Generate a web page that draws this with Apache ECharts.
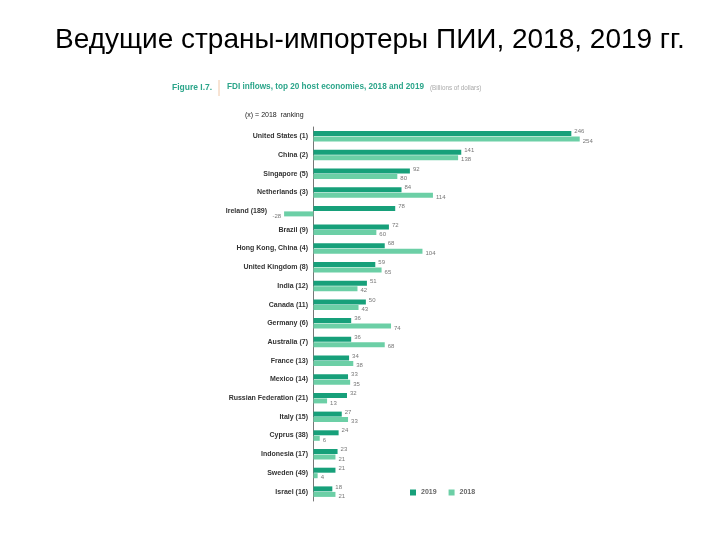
<!DOCTYPE html>
<html><head><meta charset="utf-8">
<script src="https://cdn.jsdelivr.net/npm/echarts@6/dist/echarts.min.js"></script>
<style>html,body{margin:0;padding:0;background:#fff}#c{width:720px;height:540px}</style>
</head><body><div id="c"></div>
<script>
const categories = ['United States (1)','China (2)','Singapore (5)','Netherlands (3)','Ireland (189)','Brazil (9)','Hong Kong, China (4)','United Kingdom (8)','India (12)','Canada (11)','Germany (6)','Australia (7)','France (13)','Mexico (14)','Russian Federation (21)','Italy (15)','Cyprus (38)','Indonesia (17)','Sweden (49)','Israel (16)'];
const values2019 = [246,141,92,84,78,72,68,59,51,50,36,36,34,33,32,27,24,23,21,18];
const values2018 = [254,138,80,114,-28,60,104,65,42,43,74,68,38,35,13,33,6,21,4,21];

const dark = '#17a07a', light = '#6ccfa6';
const chart = echarts.init(document.getElementById('c'));
const narrow = "'Liberation Sans Narrow', 'Liberation Sans', Arial, sans-serif";
chart.setOption({
  animation:false,
  title:[
    {text:'Ведущие страны-импортеры ПИИ, 2018, 2019 гг.', left:50, top:21,
     textStyle:{fontFamily:"'Liberation Sans', Arial, sans-serif", fontSize:28, fontWeight:'normal', color:'#000'}},
    {text:'Figure I.7.', left:167, top:78, textStyle:{fontFamily:narrow, fontSize:8.5, fontWeight:'bold', color:'#2ba58a'}},
    {text:'FDI inflows, top 20 host economies, 2018 and 2019', left:222, top:78, textStyle:{fontFamily:narrow, fontSize:8.2, fontWeight:'bold', color:'#2ba58a'}},
    {text:'(Billions of dollars)', left:425, top:80, textStyle:{fontFamily:narrow, fontSize:6.3, fontWeight:'normal', color:'#aaa'}},
    {text:'(x) = 2018  ranking', left:240, top:107, textStyle:{fontFamily:narrow, fontSize:7, fontWeight:'normal', color:'#222'}}
  ],
  graphic:[{type:'line', shape:{x1:219,y1:80,x2:219,y2:96}, style:{stroke:'#f0c8a8', lineWidth:1}}],
  legend:{data:['2019','2018'], left:405, top:484, itemWidth:6, itemHeight:6, itemGap:12, icon:'rect',
    textStyle:{fontFamily:narrow, fontSize:7, fontWeight:'bold', color:'#666'}},
  grid:{left:282, width:304, top:127, height:374, containLabel:false},
  xAxis:{type:'value', min:-30, max:260, show:false},
  yAxis:{type:'category', data:categories, inverse:true,
    axisLine:{show:true, onZero:true, lineStyle:{color:'#777', width:1}},
    axisTick:{show:false},
    axisLabel:{margin:-26, fontFamily:narrow, fontSize:7, fontWeight:'bold', color:'#333',
      formatter:(v,i)=> values2018[i] < 0 ? '{neg|'+v+'}' : v,
      rich:{neg:{padding:[0,41,0,0], fontFamily:narrow, fontSize:7, fontWeight:'bold', color:'#333'}}}
  },
  series:[
    {name:'2019', type:'bar', data:values2019, barWidth:5, barGap:'10%', itemStyle:{color:dark},
     label:{show:true, position:'right', distance:3, offset:[0,-2], fontFamily:narrow, fontSize:6, color:'#777'}},
    {name:'2018', type:'bar', data:values2018.map(v=> v<0 ? {value:v, label:{position:'left'}} : v), barWidth:5, itemStyle:{color:light},
     label:{show:true, position:'right', distance:3, offset:[0,2], fontFamily:narrow, fontSize:6, color:'#777'}}
  ]
});
</script></body></html>
